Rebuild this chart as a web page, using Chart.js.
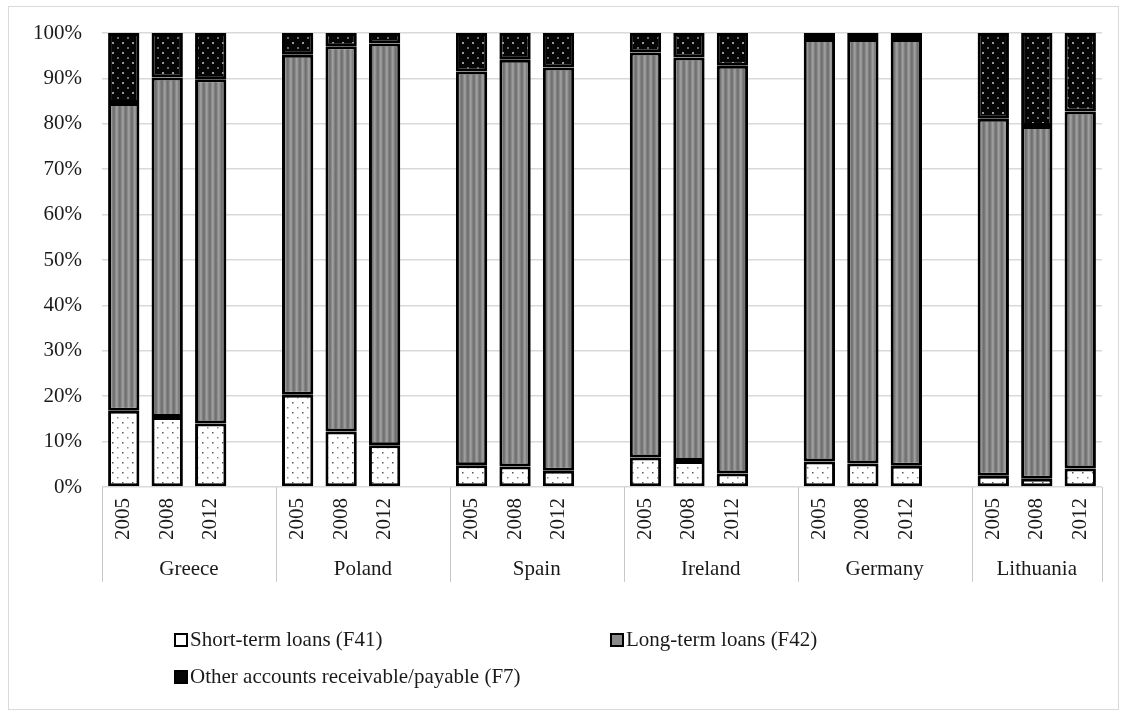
<!DOCTYPE html>
<html>
<head>
<meta charset="utf-8">
<script src="https://cdn.jsdelivr.net/npm/chart.js@4.4.1/dist/chart.umd.min.js"></script>
<style>
    body { margin: 0; background: #ffffff; }
    #chart-wrap { width: 1127px; height: 716px; position: relative; }
</style>
</head>
<body>
<div id="chart-wrap"><canvas id="loans-chart"></canvas></div>
<script>
const countries = ['Greece', 'Poland', 'Spain', 'Ireland', 'Germany', 'Lithuania'];
const years = ['2005', '2008', '2012'];

// shares in %, per country 2005, 2008, 2012
const short_term_loans = [16.8, 15.4, 14.0, 20.3, 12.2, 9.2, 4.8, 4.5, 3.6, 6.5, 5.7, 3.0, 5.6, 5.2, 4.7, 2.5, 1.8, 4.1];
const long_term_loans = [67.8, 74.8, 75.8, 74.9, 84.9, 88.5, 86.7, 89.6, 88.8, 89.2, 88.9, 89.8, 93.1, 93.5, 94.0, 78.6, 77.7, 78.6];
const other_accounts = [15.4, 9.8, 10.2, 4.8, 2.9, 2.3, 8.5, 5.9, 7.6, 4.3, 5.4, 7.2, 1.3, 1.3, 1.3, 18.9, 20.5, 17.3];

const y_ticks = [0, 10, 20, 30, 40, 50, 60, 70, 80, 90, 100];

const series_names = ['Short-term loans (F41)', 'Long-term loans (F42)', 'Other accounts receivable/payable (F7)'];

const font_family = "'Liberation Serif', 'Times New Roman', serif";
const text_color = '#1a1a1a';

// one empty slot between country groups, like the Excel sheet
const slot_labels = [];
const slot_short = [];
const slot_long = [];
const slot_other = [];
countries.forEach((country, ci) => {
    years.forEach((year, yi) => {
        slot_labels.push(year);
        slot_short.push(short_term_loans[ci * 3 + yi]);
        slot_long.push(long_term_loans[ci * 3 + yi]);
        slot_other.push(other_accounts[ci * 3 + yi]);
    });
    if (ci < countries.length - 1) {
        slot_labels.push('');
        slot_short.push(null);
        slot_long.push(null);
        slot_other.push(null);
    }
});

const make_pattern = (size, draw) => {
    const c = document.createElement('canvas');
    c.width = size[0];
    c.height = size[1];
    const cx = c.getContext('2d');
    draw(cx);
    return document.createElement('canvas').getContext('2d').createPattern(c, 'repeat');
};

const short_pattern = make_pattern([10, 10], (cx) => {
    cx.fillStyle = '#ffffff';
    cx.fillRect(0, 0, 10, 10);
    cx.fillStyle = '#555555';
    cx.fillRect(2, 2, 1.5, 1.5);
    cx.fillStyle = '#8a8a8a';
    cx.fillRect(7, 7, 1.5, 1.5);
});

const long_pattern = make_pattern([6, 1], (cx) => {
    const stripes = ['#777777', '#8a8a8a', '#9e9e9e', '#949494', '#818181', '#707070'];
    stripes.forEach((col, i) => {
        cx.fillStyle = col;
        cx.fillRect(i, 0, 1, 1);
    });
});

const other_pattern = make_pattern([10, 10], (cx) => {
    cx.fillStyle = '#050505';
    cx.fillRect(0, 0, 10, 10);
    cx.fillStyle = '#9a9a9a';
    cx.fillRect(2, 2, 2, 2);
    cx.fillStyle = '#6a6a6a';
    cx.fillRect(7, 7, 2, 2);
});

const legend_swatches = ['#ffffff', '#8a8a8a', '#050505'];

const groups_plugin = {
    id: 'groups_plugin',
    afterDraw(chart) {
        const ctx = chart.ctx;
        const x_scale = chart.scales.x;
        const area = chart.chartArea;
        const slot = x_scale.getPixelForValue(1) - x_scale.getPixelForValue(0);

        ctx.save();
        // separators and country names under the year labels
        ctx.strokeStyle = '#c8c8c8';
        ctx.lineWidth = 1;
        ctx.font = '21px ' + font_family;
        ctx.fillStyle = text_color;
        ctx.textAlign = 'center';
        ctx.textBaseline = 'middle';
        countries.forEach((country, ci) => {
            const n_slots = ci < countries.length - 1 ? 4 : 3;
            const left = x_scale.getPixelForValue(ci * 4) - slot / 2;
            const right = left + n_slots * slot;
            ctx.beginPath();
            ctx.moveTo(Math.round(left) + 0.5, area.bottom);
            ctx.lineTo(Math.round(left) + 0.5, 582);
            ctx.stroke();
            if (ci === countries.length - 1) {
                ctx.beginPath();
                ctx.moveTo(Math.round(right) + 0.5, area.bottom);
                ctx.lineTo(Math.round(right) + 0.5, 582);
                ctx.stroke();
            }
            ctx.fillText(country, (left + right) / 2, 569);
        });

        // legend, laid out as in the original (two columns)
        const legend_pos = [[175, 640], [611, 640], [175, 677]];
        ctx.textAlign = 'left';
        series_names.forEach((name, i) => {
            const [lx, ly] = legend_pos[i];
            ctx.fillStyle = legend_swatches[i];
            ctx.fillRect(lx, ly - 6, 12, 12);
            ctx.strokeStyle = '#000000';
            ctx.lineWidth = 2;
            ctx.strokeRect(lx, ly - 6, 12, 12);
            ctx.fillStyle = text_color;
            ctx.fillText(name, lx + 15, ly);
        });

        // outer frame
        ctx.strokeStyle = '#d9d9d9';
        ctx.lineWidth = 1;
        ctx.strokeRect(8.5, 6.5, 1110, 703);
        ctx.restore();
    }
};

const loans_chart = document.getElementById('loans-chart');

const loans_chart_instance = new Chart(loans_chart, {
    type: 'bar',
    data: {
        labels: slot_labels,
        datasets: [
            { label: series_names[0], data: slot_short, backgroundColor: short_pattern },
            { label: series_names[1], data: slot_long, backgroundColor: long_pattern },
            { label: series_names[2], data: slot_other, backgroundColor: other_pattern }
        ].map((ds) => Object.assign(ds, {
            borderColor: '#000000',
            borderWidth: 3,
            borderSkipped: false,
            barPercentage: 0.72,
            categoryPercentage: 1
        }))
    },
    options: {
        responsive: true,
        maintainAspectRatio: false,
        animation: false,
        layout: {
            padding: { top: 33, right: 25, bottom: 0, left: 0 }
        },
        plugins: {
            legend: { display: false },
            tooltip: { enabled: false }
        },
        scales: {
            x: {
                stacked: true,
                grid: { display: false },
                border: { display: false },
                afterFit: (scale) => { scale.height = 229; },
                ticks: {
                    autoSkip: false,
                    minRotation: 90,
                    maxRotation: 90,
                    padding: 3,
                    color: text_color,
                    font: { family: font_family, size: 21 }
                }
            },
            y: {
                stacked: true,
                min: 0,
                max: 100,
                afterFit: (scale) => { scale.width = 102; },
                afterBuildTicks: (scale) => {
                    scale.ticks = y_ticks.map((v) => ({ value: v }));
                },
                grid: { color: '#d9d9d9', lineWidth: 1.5, drawTicks: false },
                border: { display: false },
                ticks: {
                    padding: 20,
                    color: text_color,
                    font: { family: font_family, size: 21 },
                    callback: (v) => v + '%'
                }
            }
        }
    },
    plugins: [groups_plugin]
});
</script>
</body>
</html>
